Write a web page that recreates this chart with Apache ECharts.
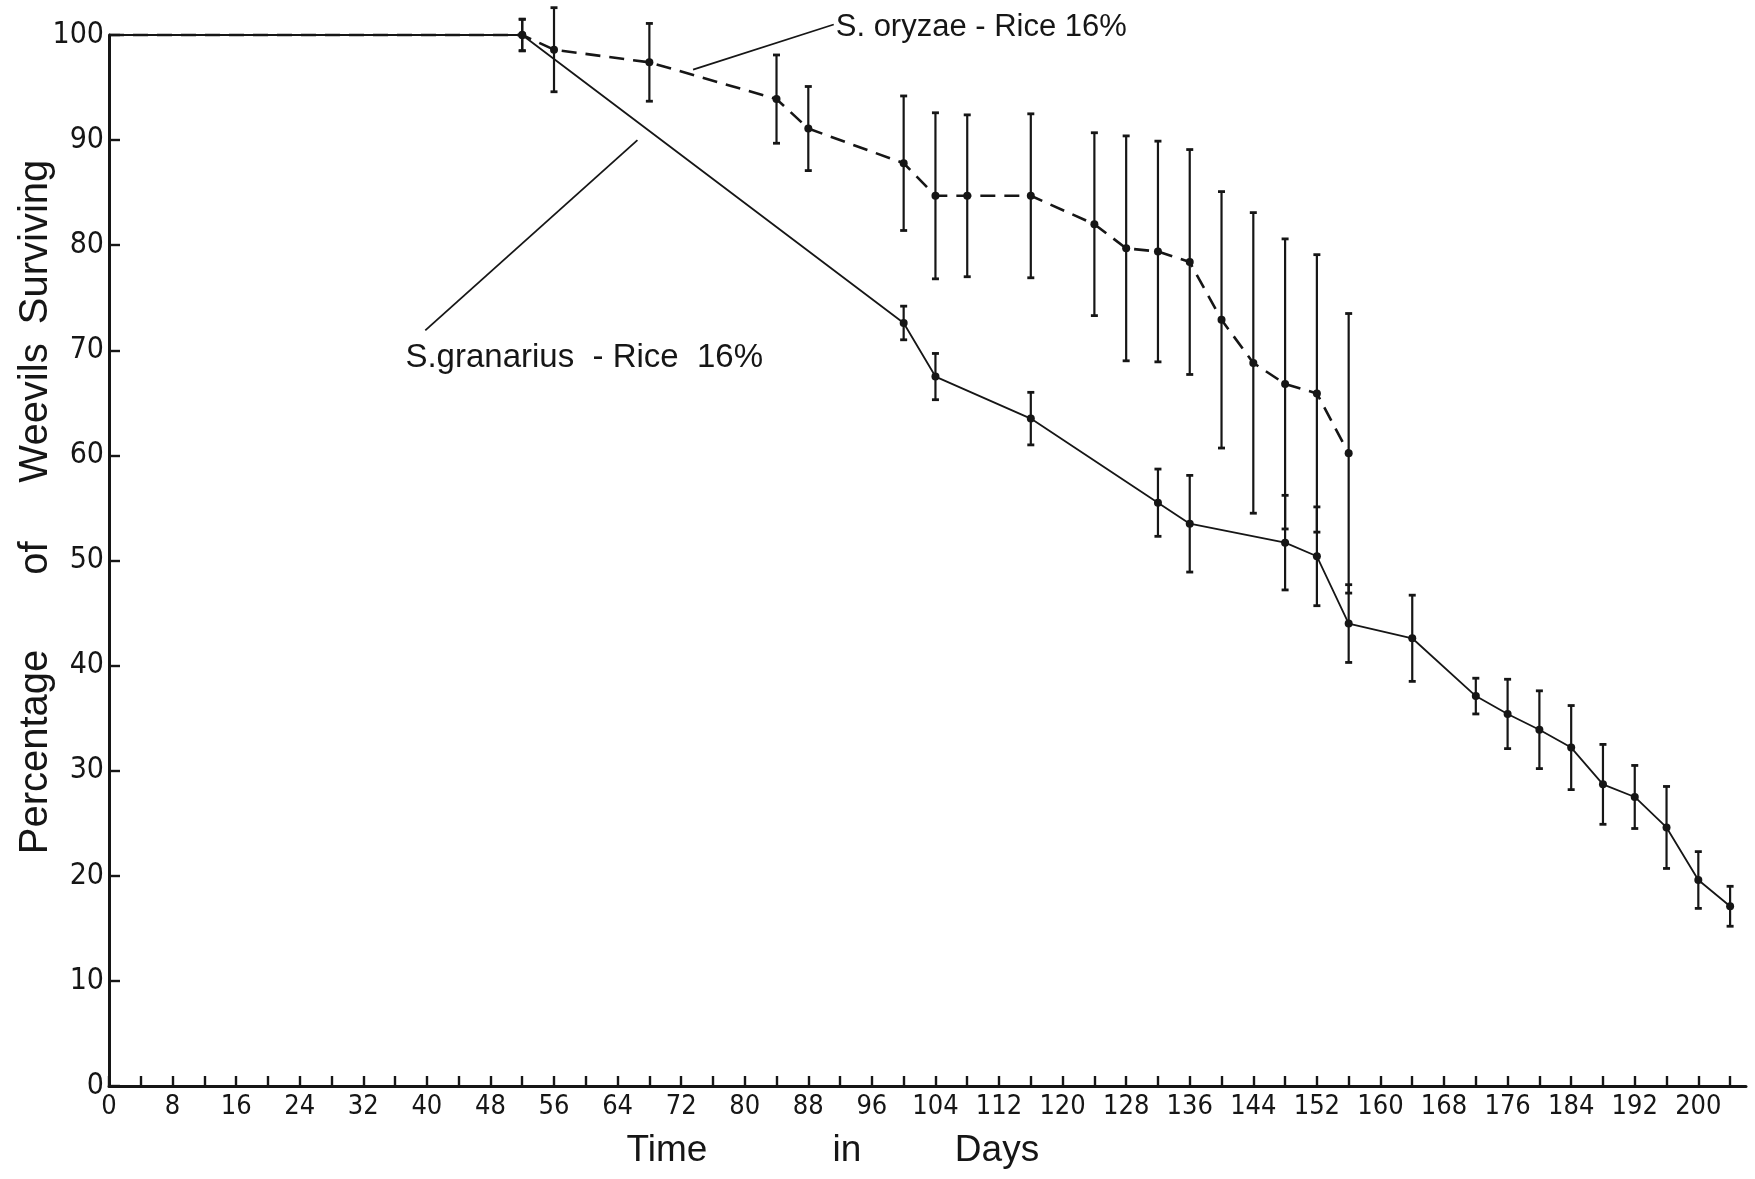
<!DOCTYPE html>
<html>
<head>
<meta charset="utf-8">
<title>Weevil survival on rice</title>
<script src="https://cdn.jsdelivr.net/npm/echarts@6/dist/echarts.min.js"></script>
<style>
  html, body { margin: 0; padding: 0; background: #ffffff; }
  #chart { width: 1755px; height: 1179px; }
</style>
</head>
<body>
<div id="chart"></div>
<script>
// Axis ticks and labels
const dayTicks = [0, 4, 8, 12, 16, 20, 24, 28, 32, 36, 40, 44, 48, 52, 56, 60, 64, 68, 72, 76, 80, 84, 88, 92, 96, 100,
  104, 108, 112, 116, 120, 124, 128, 132, 136, 140, 144, 148, 152, 156, 160, 164, 168, 172, 176, 180, 184, 188, 192, 196, 200, 204];
const dayLabels = [0, 8, 16, 24, 32, 40, 48, 56, 64, 72, 80, 88, 96, 104, 112, 120, 128, 136, 144, 152, 160, 168, 176, 184, 192, 200];

// S. oryzae on rice at 16% moisture (dashed line): day, % surviving, half-width of bar
const oryzaeDays = [0, 52, 56, 68, 84, 88, 100, 104, 108, 116, 124, 128, 132, 136, 140, 144, 148, 152, 156];
const oryzaePct  = [100, 100, 98.6, 97.4, 93.9, 91.1, 87.8, 84.7, 84.7, 84.7, 82.0, 79.7, 79.4, 78.4, 72.9, 68.8, 66.8, 65.9, 60.2];
const oryzaeErr  = [null, 1.5, 4.0, 3.7, 4.2, 4.0, 6.4, 7.9, 7.7, 7.8, 8.7, 10.7, 10.5, 10.7, 12.2, 14.3, 13.8, 13.2, 13.3];

// S. granarius on rice at 16% moisture (solid line)
const granariusDays = [0, 52, 100, 104, 116, 132, 136, 148, 152, 156, 164, 172, 176, 180, 184, 188, 192, 196, 200, 204];
const granariusPct  = [100, 100, 72.6, 67.5, 63.5, 55.5, 53.5, 51.7, 50.4, 44.0, 42.6, 37.1, 35.4, 33.9, 32.2, 28.7, 27.5, 24.6, 19.6, 17.1];
const granariusErr  = [null, 1.5, 1.6, 2.2, 2.5, 3.2, 4.6, 4.5, 4.7, 3.7, 4.1, 1.7, 3.3, 3.7, 4.0, 3.8, 3.0, 3.9, 2.7, 1.9];

const INK = '#161616';
const NARROW = "'Liberation Sans Narrow', 'DejaVu Sans Condensed', 'Liberation Sans', Arial, sans-serif";
const SANS = "'Liberation Sans', Arial, sans-serif";

function linePoints(days, pct) {
  // the starting point at day 0 carries no marker
  return days.map((d, i) => i === 0 ? { value: [d, pct[i]], symbol: 'none' } : [d, pct[i]]);
}

function barRows(days, pct, err) {
  const rows = [];
  days.forEach((d, i) => {
    if (err[i] != null) rows.push([d, pct[i] - err[i], pct[i] + err[i]]);
  });
  return rows;
}

function errorBarSeries(name, rows) {
  return {
    type: 'custom',
    name: name,
    data: rows,
    clip: false,
    z: 3,
    silent: true,
    encode: { x: 0, y: [1, 2] },
    renderItem: function (params, api) {
      const x = api.value(0);
      const lo = api.coord([x, api.value(1)]);
      const hi = api.coord([x, api.value(2)]);
      const cap = 3.5;
      return {
        type: 'group',
        children: [
          { type: 'line', shape: { x1: lo[0], y1: lo[1], x2: hi[0], y2: hi[1] },
            style: { stroke: INK, lineWidth: 2.2 } },
          { type: 'line', shape: { x1: hi[0] - cap, y1: hi[1], x2: hi[0] + cap, y2: hi[1] },
            style: { stroke: INK, lineWidth: 2.8 } },
          { type: 'line', shape: { x1: lo[0] - cap, y1: lo[1], x2: lo[0] + cap, y2: lo[1] },
            style: { stroke: INK, lineWidth: 2.8 } }
        ]
      };
    }
  };
}

const chart = echarts.init(document.getElementById('chart'), null, { renderer: 'canvas' });

chart.setOption({
  backgroundColor: '#ffffff',
  animation: false,
  grid: { left: 109, right: 9, top: 35, bottom: 93, containLabel: false },
  xAxis: {
    type: 'value',
    min: 0,
    max: 206,
    interval: 4,
    axisLine: { show: true, lineStyle: { color: INK, width: 3 } },
    axisTick: { show: true, inside: true, length: 10, customValues: dayTicks,
      lineStyle: { color: INK, width: 2.4 } },
    axisLabel: { show: true, customValues: dayLabels, margin: 7, color: INK,
      fontFamily: NARROW, fontSize: 27 },
    splitLine: { show: false }
  },
  yAxis: {
    type: 'value',
    min: 0,
    max: 100,
    interval: 10,
    axisLine: { show: true, onZero: false, lineStyle: { color: INK, width: 3 } },
    axisTick: { show: true, inside: true, length: 11, lineStyle: { color: INK, width: 2.4 } },
    axisLabel: { show: true, margin: 5, color: INK, fontFamily: NARROW, fontSize: 30 },
    splitLine: { show: false }
  },
  series: [
    errorBarSeries('S. granarius error', barRows(granariusDays, granariusPct, granariusErr)),
    errorBarSeries('S. oryzae error', barRows(oryzaeDays, oryzaePct, oryzaeErr)),
    {
      type: 'line',
      name: 'S. granarius - Rice 16%',
      data: linePoints(granariusDays, granariusPct),
      clip: false,
      z: 4,
      symbol: 'circle',
      symbolSize: 8,
      showAllSymbol: true,
      itemStyle: { color: INK },
      lineStyle: { color: INK, width: 1.8, type: 'solid' }
    },
    {
      type: 'line',
      name: 'S. oryzae - Rice 16%',
      data: linePoints(oryzaeDays, oryzaePct),
      clip: false,
      z: 5,
      symbol: 'circle',
      symbolSize: 8,
      showAllSymbol: true,
      itemStyle: { color: INK },
      lineStyle: { color: INK, width: 2.6, type: [15, 9] }
    }
  ]
});

// Annotations: leader lines and species labels anchored in data space,
// axis titles laid out as separate hand-spaced words.
const px = (d, v) => chart.convertToPixel({ gridIndex: 0 }, [d, v]);

const oryA = px(73.5, 96.7), oryB = px(91.2, 101.0);
const graA = px(66.5, 90.0), graB = px(39.8, 71.9);
const graText = px(37.3, 69.3);

function word(text, x, y, size, rot) {
  return {
    type: 'text',
    x: x, y: y,
    rotation: rot || 0,
    silent: true,
    style: { text: text, fill: INK, font: size + 'px ' + SANS, align: 'center', verticalAlign: 'middle' }
  };
}

chart.setOption({
  graphic: [
    { type: 'line', silent: true, shape: { x1: oryA[0], y1: oryA[1], x2: oryB[0], y2: oryB[1] },
      style: { stroke: INK, lineWidth: 1.8 } },
    { type: 'text', silent: true, x: oryB[0] + 2, y: oryB[1] + 3,
      style: { text: 'S. oryzae - Rice 16%', fill: INK, font: '31px ' + SANS, align: 'left', verticalAlign: 'middle' } },
    { type: 'line', silent: true, shape: { x1: graA[0], y1: graA[1], x2: graB[0], y2: graB[1] },
      style: { stroke: INK, lineWidth: 1.8 } },
    { type: 'text', silent: true, x: graText[0], y: graText[1],
      style: { text: 'S.granarius  - Rice  16%', fill: INK, font: '33px ' + SANS, align: 'left', verticalAlign: 'middle' } },

    word('Percentage', 36, 752, 40, Math.PI / 2),
    word('of', 36, 558, 40, Math.PI / 2),
    word('Weevils', 36, 413, 40, Math.PI / 2),
    word('Surviving', 36, 242, 40, Math.PI / 2),

    word('Time', 667, 1151, 37, 0),
    word('in', 847, 1151, 37, 0),
    word('Days', 997, 1151, 37, 0)
  ]
});
</script>
</body>
</html>
